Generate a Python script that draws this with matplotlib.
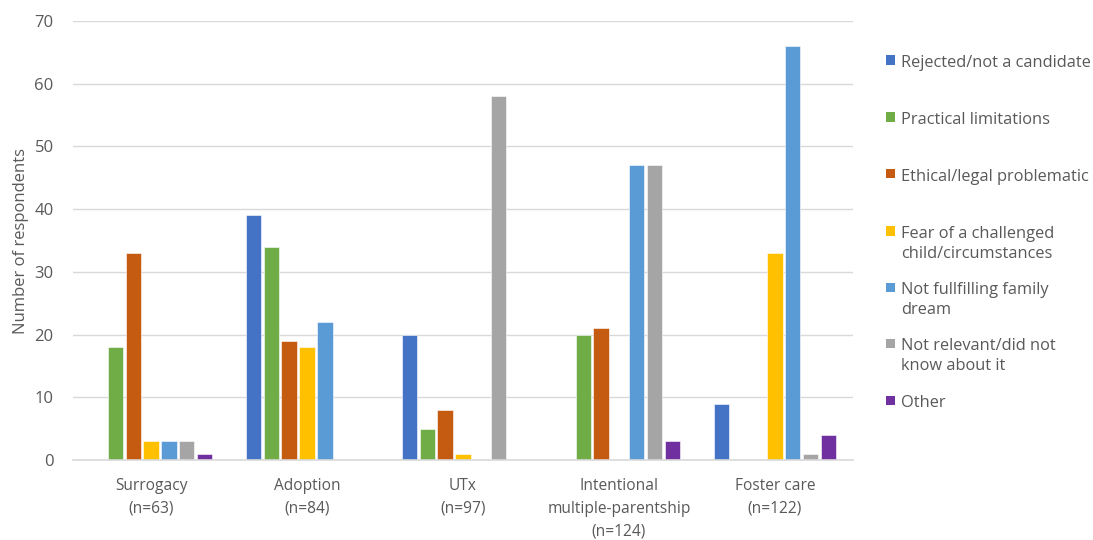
import numpy as np
import matplotlib
matplotlib.use("Agg")
import matplotlib.pyplot as plt
from matplotlib.patches import Rectangle

categories = ["Surrogacy\n(n=63)", "Adoption\n(n=84)", "UTx\n(n=97)",
              "Intentional\nmultiple-parentship\n(n=124)", "Foster care\n(n=122)"]
series_names = ["Rejected/not a candidate", "Practical limitations",
                "Ethical/legal problematic",
                "Fear of a challenged\nchild/circumstances",
                "Not fullfilling family\ndream",
                "Not relevant/did not\nknow about it", "Other"]
rejected = [0, 39, 20, 0, 9]
practical = [18, 34, 5, 20, 0]
ethical = [33, 19, 8, 21, 0]
fear = [3, 18, 1, 0, 33]
not_dream = [3, 22, 0, 47, 66]
not_relevant = [3, 0, 58, 47, 1]
other = [1, 0, 0, 3, 4]
yticks = [0, 10, 20, 30, 40, 50, 60, 70]

series = [rejected, practical, ethical, fear, not_dream, not_relevant, other]
colors = ["#4472C4", "#70AD47", "#C55A11", "#FFC000", "#5B9BD5", "#A5A5A5", "#7030A0"]

plt.rcParams["font.family"] = ["Open Sans", "DejaVu Sans"]
text_color = "#595959"

fig = plt.figure(figsize=(10.93, 5.40), dpi=100)
ax = fig.add_axes([0.0668, 0.1481, 0.7136, 0.813])

x = np.arange(len(categories))
slot = 0.115
width = 0.097
for i, (vals, c) in enumerate(zip(series, colors)):
    offs = (i - 3) * slot
    ax.bar(x + offs, vals, width=width, color=c, edgecolor="white",
           linewidth=0.4, zorder=3)

ax.set_xlim(-0.5, len(categories) - 0.5)
ax.set_ylim(0, 70)
ax.set_yticks(yticks)
ax.set_xticks(x)
ax.set_xticklabels(categories, fontsize=11.2, color=text_color, linespacing=1.55)
ax.tick_params(axis="x", length=0, pad=13)
ax.tick_params(axis="y", length=0, pad=14, labelsize=12, labelcolor=text_color)
ax.yaxis.grid(True, color="#D9D9D9", linewidth=1, zorder=0)
for s in ["top", "right", "left"]:
    ax.spines[s].set_visible(False)
ax.spines["bottom"].set_color("#D9D9D9")
ax.spines["bottom"].set_linewidth(1.2)
ax.spines["bottom"].set_zorder(4)
ax.set_ylabel("Number of respondents", fontsize=12, color=text_color, labelpad=4)

# legend drawn entry by entry with even vertical spacing
W, H = fig.get_size_inches() * fig.dpi
legend_y = [60, 117, 174, 231, 287, 343, 400]
for name, c, yp in zip(series_names, colors, legend_y):
    fig.add_artist(Rectangle((886 / W, 1 - (yp + 4.5) / H), 9 / W, 9 / H,
                             transform=fig.transFigure, facecolor=c,
                             edgecolor="none"))
    fig.text(901 / W, 1 - (yp - 5) / H, name, fontsize=11.8, color=text_color,
             va="top", ha="left", linespacing=1.35)

fig.savefig("out.png", dpi=100)
